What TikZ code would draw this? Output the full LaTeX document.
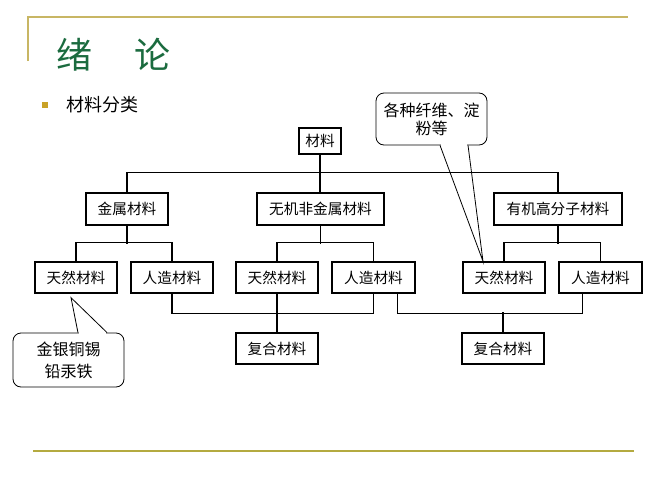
\documentclass[tikz,border=0pt]{standalone}
\usepackage{fontspec}
\setmainfont{Noto Sans CJK SC}
\usepackage{tikz}
\definecolor{titlegreen}{HTML}{1B6B3F}
\definecolor{rulegold}{HTML}{C8B664}
\definecolor{bulletgold}{HTML}{C9A227}
\definecolor{footgold}{HTML}{B4AA40}

\begin{document}
\begin{tikzpicture}[ x=0.75pt, y=-0.75pt,
    material/.style= {
        draw,
        line width=1pt,
        inner sep=0pt,
        minimum height=23.25pt,
        font=\fontsize{11}{13}\selectfont },
    branch/.style= { line width=1pt },
    remark/.style= {
        draw,
        line width=0.6pt,
        rounded corners=6pt,
        fill=white,
        inner sep=0pt,
        align=center,
        font=\fontsize{12}{16.5}\selectfont } ]
    \useasboundingbox (0,0) rectangle (667,500);
    \draw[rulegold, line width=1.6pt] (28,61) -- (28,17) -- (628,17);
    \draw[footgold, line width=1.1pt] (33,451) -- (634,451);
    \node[titlegreen, anchor=west, inner sep=0pt, font=\fontsize{27}{27}\selectfont] (title) at (56,55) {绪\hspace{32pt}论};
    \fill[bulletgold] (42,102) rectangle (48,108);
    \node[anchor=west, inner sep=0pt, font=\fontsize{13.5}{14}\selectfont] (topic) at (66,104.5) {材料分类};
    % tree
    \node[material, minimum width=31.5pt, minimum height=19.5pt] (root) at (320,141) {材料};
    \node[material, minimum width=61.5pt, minimum height=24pt] (metal) at (127,209) {金属材料};
    \node[material, minimum width=95.25pt, minimum height=24pt] (inorganic) at (320.5,209) {无机非金属材料};
    \node[material, minimum width=96pt, minimum height=24pt] (organic) at (558,209) {有机高分子材料};
    \node[material, minimum width=61.5pt] (natural1) at (76,277.5) {天然材料};
    \node[material, minimum width=61.5pt] (artificial1) at (172,277.5) {人造材料};
    \node[material, minimum width=61.5pt] (natural2) at (277,277.5) {天然材料};
    \node[material, minimum width=62.25pt] (artificial2) at (373.5,277.5) {人造材料};
    \node[material, minimum width=61.5pt] (natural3) at (504,277.5) {天然材料};
    \node[material, minimum width=62.25pt] (artificial3) at (600.5,277.5) {人造材料};
    \node[material, minimum width=61.5pt] (composite1) at (277,348.5) {复合材料};
    \node[material, minimum width=61.5pt] (composite2) at (503,348.5) {复合材料};
    \draw[branch] (root.south) -- (root.south |- inorganic.north);
    \draw[branch] (metal.north) -- ++(0,-20) -| (organic.north);
    \draw[branch] (metal.south) -- ++(0,18);
    \draw[branch] (natural1.north) -- ++(0,-19) -| (artificial1.north);
    \draw[branch] (inorganic.south) -- ++(0,18);
    \draw[branch] (natural2.north) -- ++(0,-19) -| (artificial2.north);
    \draw[branch] (organic.south) -- ++(0,18);
    \draw[branch] (natural3.north) -- ++(0,-19) -| (artificial3.north);
    \draw[branch] (artificial1.south) -- ++(0,20) -| (artificial2.south);
    \draw[branch] (natural2.south) -- (composite1.north);
    \draw[branch] ([xshift=18pt]artificial2.south) -- ++(0,20) -| ([xshift=-13.5pt]artificial3.south);
    \draw[branch] (composite2.north) -- ++(0,-20);
    % callouts
    \node[remark, minimum width=83.25pt, minimum height=39pt, font=\fontsize{12}{13.5}\selectfont] (fibres) at (431.5,119) {各种纤维、淀\\粉等};
    \fill[white] ([xshift=7pt,yshift=1.5pt]fibres.south) rectangle ([xshift=26.8pt,yshift=-1.5pt]fibres.south);
    \draw[line width=0.6pt] ([xshift=6.4pt]fibres.south) -- ([xshift=-15.75pt]natural3.north) -- ([xshift=27.4pt]fibres.south);
    \node[remark, minimum width=83.25pt, minimum height=40.5pt] (metals) at (68.5,360) {金银铜锡\\铅汞铁};
    \fill[white] ([xshift=7.7pt,yshift=1.5pt]metals.north) rectangle ([xshift=28.3pt,yshift=-1.5pt]metals.north);
    \draw[line width=0.6pt] ([xshift=7.1pt]metals.north) -- ([xshift=-3.75pt,yshift=-3pt]natural1.south) -- ([xshift=28.9pt]metals.north);
\end{tikzpicture}
\end{document}
